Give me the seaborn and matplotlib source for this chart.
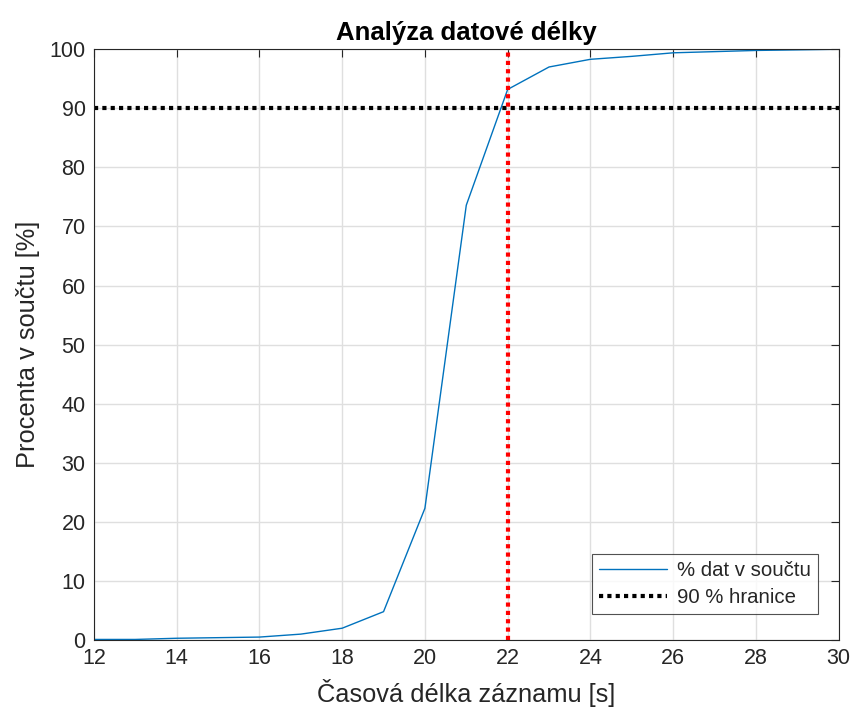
import numpy as np
import pandas as pd
import matplotlib
matplotlib.use("Agg")
import matplotlib.pyplot as plt
import seaborn as sns

# Data
delka = [12, 13, 14, 15, 16, 17, 18, 19, 20, 21, 22, 23, 24, 25, 26, 27, 28, 29, 30]
procenta = [0.1, 0.1, 0.3, 0.4, 0.5, 1.0, 2.0, 4.8, 22.3, 73.6, 93.2, 97.0, 98.3, 98.8, 99.4, 99.6, 99.8, 99.9, 100.0]
hranice = 90
mez_delky = 22

df = pd.DataFrame({"delka": delka, "procenta": procenta})

sns.set_style("white")
plt.rcParams['font.family'] = ['Liberation Sans', 'DejaVu Sans']

fig = plt.figure(figsize=(8.54, 7.14), dpi=100)
ax = fig.add_axes([0.110, 0.1036, 0.872, 0.8274])

sns.lineplot(data=df, x="delka", y="procenta", ax=ax, color="#0072BD",
             linewidth=1.0, label="% dat v součtu")
ax.axhline(hranice, color="black", linestyle=(0, (1, 1)), linewidth=3,
           label="90 % hranice")
ax.axvline(mez_delky, color="#FF0000", linestyle=(0, (1, 1)), linewidth=3)

ax.set_xlim(12, 30)
ax.set_ylim(0, 100)
ax.set_xticks(np.arange(12, 31, 2))
ax.set_yticks(np.arange(0, 101, 10))
ax.grid(True, color="#dfdfdf", linewidth=1)
ax.set_axisbelow(True)

for s in ax.spines.values():
    s.set_color("#262626")
    s.set_linewidth(0.8)
ax.tick_params(direction="in", length=6, width=0.8, colors="#262626",
               labelsize=15.5, top=True, right=True, pad=6)
for lab in ax.get_xticklabels() + ax.get_yticklabels():
    lab.set_color("#262626")

ax.set_xlabel("Časová délka záznamu [s]", fontsize=18.3, color="#262626", labelpad=7)
ax.set_ylabel("Procenta v součtu [%]", fontsize=18.3, color="#262626", labelpad=7)
ax.set_title("Analýza datové délky", fontsize=18.5, fontweight="bold",
             color="black", pad=7)

leg = ax.legend(loc="lower right", bbox_to_anchor=(0.972, 0.044), fontsize=14.7,
                frameon=True, fancybox=False, edgecolor="#262626",
                borderpad=0.35, borderaxespad=0, handlelength=3.3,
                handletextpad=0.5, labelspacing=0.4)
leg.get_frame().set_linewidth(0.8)

fig.savefig("out.png", dpi=100)
